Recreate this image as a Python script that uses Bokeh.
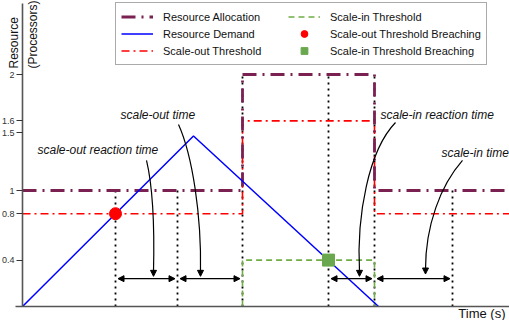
import math
from bokeh.plotting import figure
from bokeh.models import (Legend, LegendItem, Label, Arrow, NormalHead, FixedTicker, Range1d)
from bokeh.embed import file_html
from bokeh.resources import INLINE

# ---- data (time in arbitrary units, resource in processors) ----
alloc_t = [0, 22.0, 22.0, 35.2, 35.2, 48.7]
alloc_v = [1, 1, 2, 2, 1, 1]
demand_t = [0, 17.1, 35.6]
demand_v = [0, 1.47, 0]
out_thr_t = [0, 22.0, 22.0, 35.2, 35.2, 48.7]
out_thr_v = [0.8, 0.8, 1.6, 1.6, 0.8, 0.8]
in_thr_t = [22.0, 22.0, 35.2, 35.2]
in_thr_v = [0, 0.4, 0.4, 0]
breach_out_t = [9.3]
breach_out_v = [0.8]
breach_in_t = [30.6]
breach_in_v = [0.4]
event_t = [9.3, 15.5, 22.0, 30.6, 35.2, 43.0]
event_top = [1, 1, 2, 2, 2, 1]
span_start = [9.3, 15.5, 30.6, 35.2]
span_end = [15.5, 22.0, 35.2, 43.0]
span_level = 0.24
y_ticks = [0.4, 0.8, 1, 1.5, 1.6, 2]
y_tick_labels = ["0.4", "0.8", "1", "1.5", "1.6", "2"]

FONT = "Liberation Sans"
PX_X = 10.0    # pixels per time unit
PX_Y = 116.0   # pixels per processor
W, H = 509, 320

p = figure(width=W, height=H, output_backend="svg", toolbar_location=None,
           x_range=Range1d(-22 / PX_X, 48.7), y_range=Range1d(-14 / PX_Y, 306 / PX_Y),
           min_border_left=0, min_border_right=0, min_border_top=0, min_border_bottom=0)
p.outline_line_color = None
p.grid.visible = False
p.background_fill_color = "white"

# axes drawn at the origin
p.yaxis.fixed_location = 0
p.yaxis.bounds = (0, 303 / PX_Y)
p.yaxis.ticker = FixedTicker(ticks=y_ticks)
p.yaxis.major_label_overrides = {t: l for t, l in zip(y_ticks, y_tick_labels)}
p.yaxis.minor_tick_line_color = None
p.yaxis.major_tick_out = 6
p.yaxis.major_tick_in = 0
p.yaxis.major_label_standoff = 2
p.yaxis.major_label_text_font = FONT
p.yaxis.major_label_text_font_size = "9px"
p.yaxis.major_label_text_color = "#333333"
p.yaxis.axis_line_color = "#555555"
p.yaxis.axis_line_width = 1.6
p.yaxis.major_tick_line_color = "#333333"
p.yaxis.major_tick_line_width = 1.2

p.xaxis.fixed_location = 0
p.xaxis.bounds = (-0.7, 48.7)
p.xaxis.ticker = FixedTicker(ticks=[])
p.xaxis.major_tick_out = 0
p.xaxis.major_tick_in = 0
p.xaxis.minor_tick_line_color = None
p.xaxis.axis_line_color = "#555555"
p.xaxis.axis_line_width = 1.6

# dotted event lines
p.segment(x0=event_t, y0=[0] * len(event_t), x1=event_t, y1=event_top,
          line_color="black", line_width=1.8, line_dash="2 4")

# series
r_in = p.line(in_thr_t, in_thr_v, line_color="#70AD47", line_width=1.6, line_dash="6 4")
r_out = p.line(out_thr_t, out_thr_v, line_color="#FF0000", line_width=1.6, line_dash="8 4 2 4")
r_alloc = p.line(alloc_t, alloc_v, line_color="#7B2152", line_width=2.8, line_dash="14 6 2 6")
r_dem = p.line(demand_t, demand_v, line_color="#0000FF", line_width=1.5)
r_bo = p.scatter(breach_out_t, breach_out_v, marker="circle", size=12,
                 fill_color="#FF0000", line_color="#FF0000")
r_bi = p.scatter(breach_in_t, breach_in_v, marker="square", size=12,
                 fill_color="#6AA84F", line_color="#6AA84F")

# duration arrows
for a, b in zip(span_start, span_end):
    p.add_layout(Arrow(start=NormalHead(size=6, fill_color="black", line_color="black"),
                       end=NormalHead(size=6, fill_color="black", line_color="black"),
                       x_start=a + 0.25, y_start=span_level, x_end=b - 0.25, y_end=span_level,
                       line_color="black", line_width=1.3))

# curved pointers from text to arrows
curves = [
    ((12.4, 1.259), (13.0, 1.043), (13.2, 0.655), (13.1, 0.30)),
    ((15.6, 1.569), (17.0, 1.302), (17.9, 0.784), (17.8, 0.30)),
    ((37.3, 1.586), (34.6, 1.345), (33.4, 0.784), (33.7, 0.30)),
    ((44.0, 1.259), (41.8, 1.043), (40.3, 0.698), (40.3, 0.32)),
]
for (p0, c0, c1, p1) in curves:
    p.bezier(x0=[p0[0]], y0=[p0[1]], x1=[p1[0]], y1=[p1[1]],
             cx0=[c0[0]], cy0=[c0[1]], cx1=[c1[0]], cy1=[c1[1]],
             line_color="black", line_width=1.2)
    p.add_layout(Arrow(end=NormalHead(size=6, fill_color="black", line_color="black"),
                       x_start=p1[0], y_start=p1[1] + 0.01, x_end=p1[0], y_end=p1[1] - 0.04,
                       line_color="black", line_width=1.2))

# annotation texts
for txt, x, y in [("scale-out reaction time", 1.5, 1.345), ("scale-out time", 9.8, 1.655),
                  ("scale-in reaction time", 35.8, 1.655), ("scale-in time", 41.9, 1.319)]:
    p.add_layout(Label(x=x, y=y, text=txt, text_font=FONT, text_font_style="italic",
                       text_font_size="12px", text_baseline="middle", text_color="#111111"))

# legend
legend = Legend(items=[
    LegendItem(label="Resource Allocation", renderers=[r_alloc]),
    LegendItem(label="Resource Demand", renderers=[r_dem]),
    LegendItem(label="Scale-out Threshold", renderers=[r_out]),
    LegendItem(label="Scale-in Threshold", renderers=[r_in]),
    LegendItem(label="Scale-out Threshold Breaching", renderers=[r_bo]),
    LegendItem(label="Scale-in Threshold Breaching", renderers=[r_bi]),
], nrows=3, location=(115, 255), label_text_font=FONT, label_text_font_size="11px",
    label_text_color="#111111", label_height=17, glyph_height=17, glyph_width=32,
    label_width=125, label_standoff=10, spacing=0, padding=5, margin=0,
    border_line_color="#555555", border_line_width=1.6, background_fill_alpha=1)
p.add_layout(legend)

p.add_layout(Label(x=126, y=314, x_units="screen", y_units="screen", text="Legend",
                   text_font=FONT, text_font_size="12px", text_baseline="middle",
                   background_fill_color="white", text_color="#111111"))

# axis titles
p.add_layout(Label(x=13, y=252, x_units="screen", y_units="screen", text="Resource",
                   angle=math.pi / 2, text_font=FONT, text_font_size="12px",
                   text_baseline="middle", text_align="left", text_color="#111111"))
p.add_layout(Label(x=32, y=252, x_units="screen", y_units="screen", text="(Processors)",
                   angle=math.pi / 2, text_font=FONT, text_font_size="12px",
                   text_baseline="middle", text_align="left", text_color="#111111"))
p.add_layout(Label(x=505, y=7, x_units="screen", y_units="screen", text="Time (s)",
                   text_font=FONT, text_font_size="13px", text_baseline="middle",
                   text_align="right", text_color="#111111"))

open("out.html", "w").write(file_html(p, INLINE))
